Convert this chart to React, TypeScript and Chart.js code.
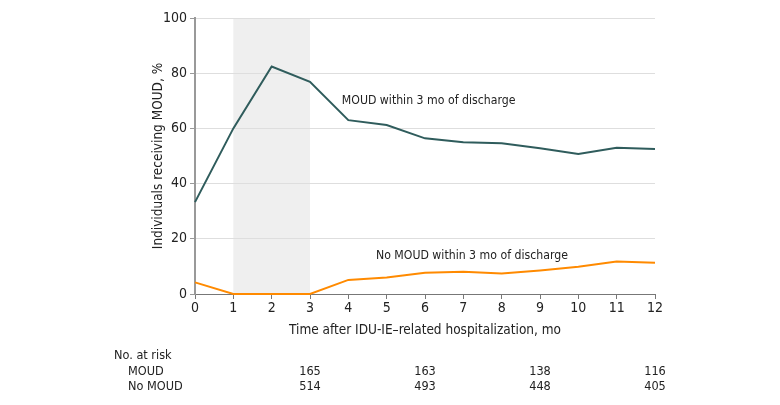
import React, { useEffect, useRef } from "react";
import { Chart, registerables } from "chart.js";

Chart.register(...registerables);

const months = [0, 1, 2, 3, 4, 5, 6, 7, 8, 9, 10, 11, 12];
const moudValues = [33.3, 60, 82.4, 76.9, 63.0, 61.2, 56.4, 55.0, 54.6, 52.8, 50.7, 53.0, 52.5];
const noMoudValues = [4.2, 0, 0, 0, 5.1, 6.0, 7.7, 8.1, 7.4, 8.5, 9.9, 11.8, 11.3];
const riskMonths = [3, 6, 9, 12];
const riskMoud = [165, 163, 138, 116];
const riskNoMoud = [514, 493, 448, 405];
const shadeRange = [1, 3];
const seriesLabels = ["MOUD within 3 mo of discharge", "No MOUD within 3 mo of discharge"];
const labelAnchors = [
  { x: 3.83, y: 70 },
  { x: 4.72, y: 13.8 },
];
const riskRowLabels = ["MOUD", "No MOUD"];
const xTitle = "Time after IDU-IE–related hospitalization, mo";
const yTitle = "Individuals receiving MOUD, %";

const FONT = "'DejaVu Sans Condensed', 'Liberation Sans Narrow', 'Noto Sans', sans-serif";
const TEXT = "#222";
const TEAL = "#2f5c5c";
const ORANGE = "#ff8a00";

const extras = {
  id: "extras",
  beforeDraw(chart: any) {
    const { ctx, chartArea, scales } = chart;
    const x = scales.x;
    ctx.save();
    ctx.fillStyle = "#efefef";
    const x1 = x.getPixelForValue(shadeRange[0]);
    const x2 = x.getPixelForValue(shadeRange[1]);
    ctx.fillRect(x1, chartArea.top, x2 - x1, chartArea.bottom - chartArea.top);
    ctx.restore();
  },
  afterDraw(chart: any) {
    const { ctx, chartArea, scales } = chart;
    const x = scales.x;
    const y = scales.y;
    ctx.save();
    ctx.fillStyle = TEXT;
    ctx.textBaseline = "middle";
    // series labels
    ctx.font = `12.2px ${FONT}`;
    ctx.textAlign = "left";
    labelAnchors.forEach((a, i) => {
      ctx.fillText(seriesLabels[i], x.getPixelForValue(a.x), y.getPixelForValue(a.y));
    });
    // x title
    ctx.font = `13.5px ${FONT}`;
    ctx.textAlign = "center";
    ctx.fillText(xTitle, (chartArea.left + chartArea.right) / 2, chartArea.bottom + 36);
    // y title
    ctx.save();
    ctx.translate(chartArea.left - 37, (chartArea.top + chartArea.bottom) / 2);
    ctx.rotate(-Math.PI / 2);
    ctx.fillText(yTitle, 0, 0);
    ctx.restore();
    // risk table
    ctx.font = `12.6px ${FONT}`;
    const row0 = chartArea.bottom + 62;
    const rowH = 15.5;
    ctx.textAlign = "left";
    ctx.fillText("No. at risk", chartArea.left - 81, row0);
    riskRowLabels.forEach((l, i) => {
      ctx.fillText(l, chartArea.left - 67, row0 + rowH * (i + 1));
    });
    ctx.textAlign = "center";
    riskMonths.forEach((m, i) => {
      const px = x.getPixelForValue(m);
      ctx.fillText(String(riskMoud[i]), px, row0 + rowH);
      ctx.fillText(String(riskNoMoud[i]), px, row0 + rowH * 2);
    });
    ctx.restore();
  },
};

export default function App() {
  const ref = useRef<HTMLCanvasElement | null>(null);
  useEffect(() => {
    document.body.style.margin = "0";
    if (!ref.current) return;
    const chart = new Chart(ref.current, {
      type: "line",
      data: {
        datasets: [
          {
            label: seriesLabels[0],
            data: months.map((m, i) => ({ x: m, y: moudValues[i] })),
            borderColor: TEAL,
            borderWidth: 2,
            pointRadius: 0,
            tension: 0,
            clip: 4,
          },
          {
            label: seriesLabels[1],
            data: months.map((m, i) => ({ x: m, y: noMoudValues[i] })),
            borderColor: ORANGE,
            borderWidth: 2,
            pointRadius: 0,
            tension: 0,
            clip: 4,
          },
        ],
      },
      options: {
        responsive: false,
        animation: false,
        layout: { padding: { left: 0, right: 125, top: 18, bottom: 0 } },
        plugins: { legend: { display: false }, tooltip: { enabled: false } },
        scales: {
          x: {
            type: "linear",
            min: 0,
            max: 12,
            afterFit: (s: any) => {
              s.height = 111;
            },
            ticks: { stepSize: 1, color: TEXT, font: { family: FONT, size: 14 }, padding: 1, maxRotation: 0 },
            grid: { drawOnChartArea: false, drawTicks: true, tickLength: 5, tickColor: "#777" },
            border: { color: "#777", width: 1 },
          },
          y: {
            min: 0,
            max: 100,
            afterFit: (s: any) => {
              s.width = 195;
            },
            ticks: { stepSize: 20, color: TEXT, font: { family: FONT, size: 14 }, padding: 3 },
            grid: { color: "#dedede", lineWidth: 1, tickLength: 5, tickColor: "#999" },
            border: { color: "#999", width: 2 },
          },
        },
      },
      plugins: [extras],
    });
    return () => chart.destroy();
  }, []);
  return (
    <div style={{ width: 780, height: 405 }}>
      <canvas ref={ref} width={780} height={405} />
    </div>
  );
}
